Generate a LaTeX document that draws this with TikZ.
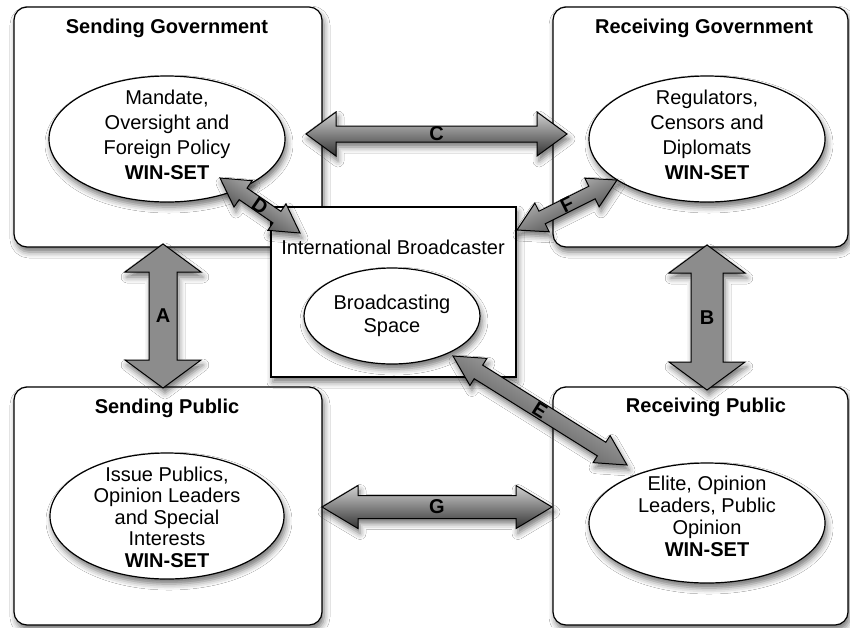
\documentclass[tikz,border=0pt]{standalone}
\usepackage{fontspec}
\setmainfont{Liberation Sans}
\usetikzlibrary{shapes.geometric,calc,shadows,shadows.blur}

\tikzset{
  shad/.style={blur shadow={shadow xshift=2pt, shadow yshift=-5pt, shadow blur radius=6pt, shadow opacity=55}},
  roundbox/.style={draw=black, line width=1.2pt, fill=white, rounded corners=13pt, inner sep=0pt, shad},
  plainbox/.style={draw=black, line width=1.2pt, fill=white, inner sep=0pt, shad},
  ell/.style={ellipse, draw=black, line width=1.2pt, fill=white, inner sep=0pt, shad},
  titletxt/.style={font=\fontsize{20}{24}\selectfont\bfseries, inner sep=0pt, anchor=base},
  plaintxt/.style={font=\fontsize{20}{24}\selectfont, inner sep=0pt, anchor=base},
  elltxt/.style={align=center, inner sep=0pt, font=\fontsize{20}{#1}\selectfont},
  fatarr/.style={draw=black, line width=1pt, top color=black!18, bottom color=black!80, shad},
  flatarr/.style={draw=black, line width=1pt, fill=black!45, shad},
  lbl/.style={font=\fontsize{20}{24}\selectfont\bfseries, inner sep=0pt},
}

% #1 style, #2 tip a, #3 tip b, #4 head length, #5 head half width, #6 shaft half width
\newcommand\fatarrow[6]{%
  \coordinate (#2#3ha) at ($(#2)!#4!(#3)$);
  \coordinate (#2#3hb) at ($(#3)!#4!(#2)$);
  \path[#1] (#2)
    -- ($(#2#3ha)!#5!90:(#3)$) -- ($(#2#3ha)!#6!90:(#3)$)
    -- ($(#2#3hb)!#6!-90:(#2)$) -- ($(#2#3hb)!#5!-90:(#2)$)
    -- (#3)
    -- ($(#2#3hb)!#5!90:(#2)$) -- ($(#2#3hb)!#6!90:(#2)$)
    -- ($(#2#3ha)!#6!-90:(#3)$) -- ($(#2#3ha)!#5!-90:(#3)$)
    -- cycle;}

\begin{document}
\begin{tikzpicture}[x=1pt,y=-1pt]
\useasboundingbox[fill=white] (0,0) rectangle (850,627);

% quadrant boxes
\node[roundbox, minimum width=308pt, minimum height=240pt] (sgbox) at (168,127) {};
\node[roundbox, minimum width=295pt, minimum height=240pt] (rgbox) at (700.5,127) {};
\node[roundbox, minimum width=308pt, minimum height=238pt] (spbox) at (168,506) {};
\node[roundbox, minimum width=295pt, minimum height=238pt] (rpbox) at (700.5,506) {};

% titles
\node[titletxt] (sgt) at (167,33) {Sending Government};
\node[titletxt] (rgt) at (704,33) {Receiving Government};
\node[titletxt] (spt) at (167,413) {Sending Public};
\node[titletxt] (rpt) at (706,412) {Receiving Public};

% ellipses
\node[ell, minimum width=236pt, minimum height=126pt] (sge) at (167,139) {};
\node[elltxt=25] (sget) at (167,135) {Mandate,\\Oversight and\\Foreign Policy\\\textbf{WIN-SET}};
\node[ell, minimum width=236pt, minimum height=126pt] (rge) at (707,139) {};
\node[elltxt=25] (rget) at (707,135) {Regulators,\\Censors and\\Diplomats\\\textbf{WIN-SET}};
\node[ell, minimum width=234pt, minimum height=126pt] (spe) at (167,516) {};
\node[elltxt=21.5] (spet) at (167,517) {Issue Publics,\\Opinion Leaders\\and Special\\Interests\\\textbf{WIN-SET}};
\node[ell, minimum width=236pt, minimum height=120pt] (rpe) at (707,523) {};
\node[elltxt=22] (rpet) at (707,516) {Elite, Opinion\\Leaders, Public\\Opinion\\\textbf{WIN-SET}};

% international broadcaster
\node[plainbox, minimum width=245pt, minimum height=170pt] (ib) at (393.5,292) {};
\node[plaintxt] (ibt) at (393,254) {International Broadcaster};
\node[ell, minimum width=176pt, minimum height=96pt] (bse) at (392,316) {};
\node[elltxt=23] (bset) at (392,316) {Broadcasting\\Space};

% arrow tips
\coordinate (aT) at (163,244); \coordinate (aB) at (163,388);
\coordinate (bT) at (707,245); \coordinate (bB) at (707,390);
\coordinate (cL) at (306,134); \coordinate (cR) at (567,134);
\coordinate (gL) at (322,507); \coordinate (gR) at (552,507);
\coordinate (dA) at (220,178); \coordinate (dB) at (300,233);
\coordinate (fA) at (517,230); \coordinate (fB) at (617,180);
\coordinate (eA) at (453,356); \coordinate (eB) at (627,465);

\fatarrow{flatarr}{aT}{aB}{28pt}{38pt}{14pt}
\fatarrow{flatarr}{bT}{bB}{28pt}{38pt}{16pt}
\fatarrow{fatarr}{cL}{cR}{30pt}{22pt}{8pt}
\fatarrow{fatarr}{gL}{gR}{36pt}{21.5pt}{11.5pt}
\fatarrow{fatarr,shading angle=-34.5}{dA}{dB}{28pt}{16pt}{7pt}
\fatarrow{fatarr,shading angle=26.6}{fA}{fB}{28pt}{16pt}{7pt}
\fatarrow{fatarr,shading angle=-32}{eA}{eB}{30pt}{16pt}{8pt}

% labels
\path (aT) -- (aB) node[lbl, midway] {A};
\path (bT) -- (bB) node[lbl, midway] {B};
\path (cL) -- (cR) node[lbl, midway] {C};
\path (gL) -- (gR) node[lbl, midway] {G};
\path (dA) -- (dB) node[lbl, midway, sloped] {D};
\path (fA) -- (fB) node[lbl, midway, sloped] {F};
\path (eA) -- (eB) node[lbl, midway, sloped] {E};
\end{tikzpicture}
\end{document}
